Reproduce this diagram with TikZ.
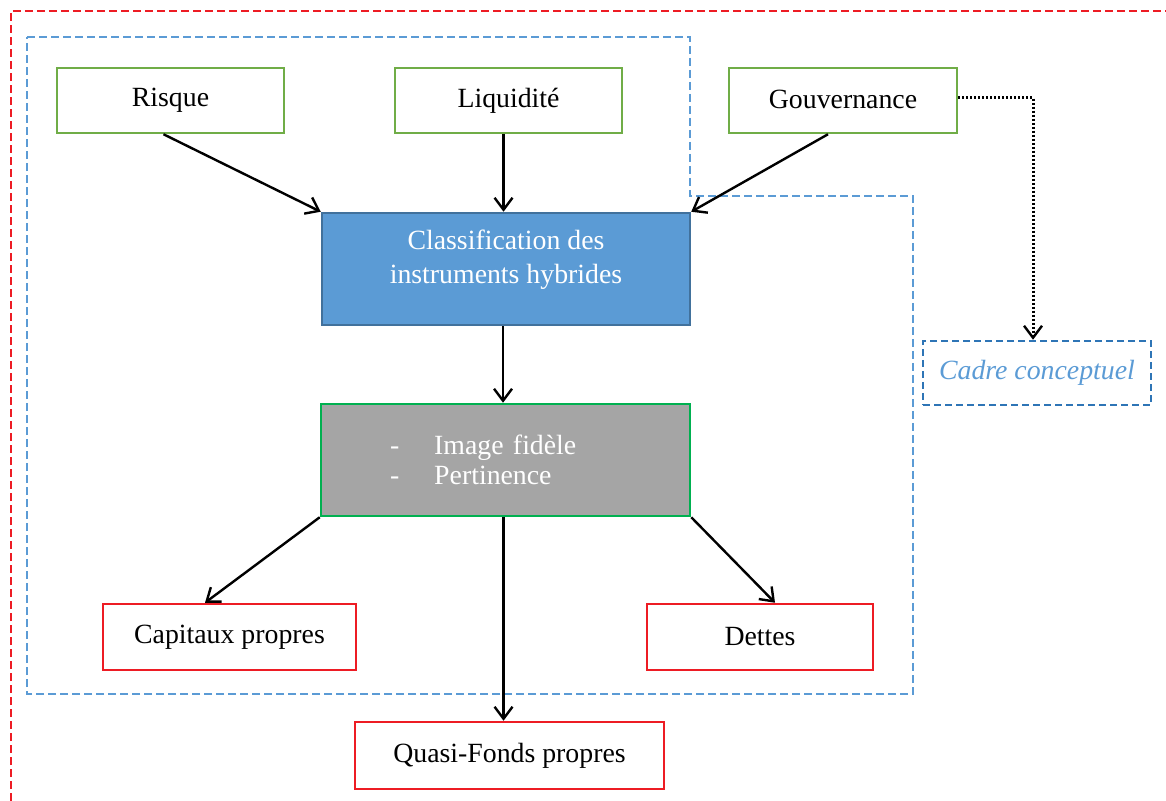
\documentclass[tikz,border=0pt]{standalone}
\usepackage{fontspec}
\setmainfont{Liberation Serif}
\usetikzlibrary{arrows.meta,positioning}
\definecolor{redf}{RGB}{237,28,36}
\definecolor{bluef}{RGB}{91,155,213}
\definecolor{darkb}{RGB}{46,117,182}
\definecolor{classb}{RGB}{65,113,156}
\definecolor{greenb}{RGB}{112,173,71}
\definecolor{greenk}{RGB}{0,176,80}
\definecolor{greyf}{RGB}{165,165,165}
\tikzset{
  base/.style={draw, line width=1.25pt, font=\fontsize{13.9}{17}\selectfont, align=center, inner sep=0pt},
  topbox/.style={base, draw=greenb, minimum width=113.5pt, minimum height=32.5pt},
  outbox/.style={base, draw=redf, minimum height=33pt},
  arr/.style={line width=1.2pt, -{Straight Barb[length=6pt,width=9pt,line width=1.2pt]}},
  frame/.style={line width=1.3pt, dash pattern=on 4pt off 2pt}
}
\begin{document}
\begin{tikzpicture}[x=0.5pt,y=-0.5pt]
\useasboundingbox (0,0) rectangle (1166,801);
% frames
\draw[frame, draw=redf] (11,801) -- (11,11) -- (1166,11);
\draw[frame, draw=bluef] (27,37) -- (690,37) -- (690,196) -- (913,196) -- (913,694) -- (27,694) -- cycle;
% nodes
\node[topbox] (R) at (170.5,100.5) {\raisebox{1pt}{Risque}};
\node[topbox] (L) at (508.5,100.5) {\raisebox{1pt}{Liquidité}};
\node[topbox, minimum width=114pt] (G) at (843,100.5) {\raisebox{1pt}{Gouvernance}};
\node[base, draw=classb, fill=bluef, text=white, minimum width=184pt, minimum height=56pt] (C) at (506,269)
  {\raisebox{1pt}[0pt][0pt]{\begin{tabular}{@{}c@{}}Classification des\\[0.3pt]instruments hybrides\end{tabular}}};
\node[base, draw=greenk, fill=greyf, text=white, minimum width=184.5pt, minimum height=56pt,
      text width=115.5pt, inner xsep=34.5pt, align=left] (I) at (505.5,460)
  {\raisebox{-5pt}[0pt][0pt]{\begin{tabular}{@{}l@{\hspace{17.5pt}}l@{}}-&Image fidèle\\[-2pt]-&Pertinence\end{tabular}}};
\node[outbox, minimum width=126.5pt] (K) at (229.5,637) {\raisebox{1pt}{Capitaux propres}};
\node[outbox, minimum width=113pt] (D) at (760,637) {\raisebox{1pt}{Dettes}};
\node[outbox, minimum width=154.5pt, minimum height=33.5pt] (Q) at (509.5,755.5) {\raisebox{1pt}{Quasi-Fonds propres}};
\node[base, draw=darkb, dash pattern=on 3.5pt off 2pt, text=bluef, minimum width=114pt, minimum height=32pt,
      font=\fontsize{13.9}{17}\selectfont\itshape] (CC) at (1037,373) {Cadre conceptuel};
% arrows
\draw[arr] ([xshift=-3.5pt]R.south) -- (C.north west);
\draw[arr] ([xshift=-2.5pt]L.south) -- ([xshift=-2.5pt]L.south |- C.north);
\draw[arr] ([xshift=-7.5pt]G.south) -- (C.north east);
\draw[arr] ([xshift=-1.5pt]C.south) -- ([xshift=-1.5pt]C.south |- I.north);
\draw[arr] (I.south west) -- ([xshift=-12.25pt]K.north);
\draw[arr] ([xshift=-1pt]I.south) -- ([xshift=-1pt]I.south |- Q.north);
\draw[arr] (I.south east) -- ([xshift=7.5pt]D.north);
\draw[line width=1.5pt, dash pattern=on 1pt off 1pt, -{Straight Barb[length=6pt,width=9pt,line width=1.2pt]}]
  ([yshift=1.5pt]G.east) -| ([xshift=-2pt]CC.north);
\end{tikzpicture}
\end{document}
